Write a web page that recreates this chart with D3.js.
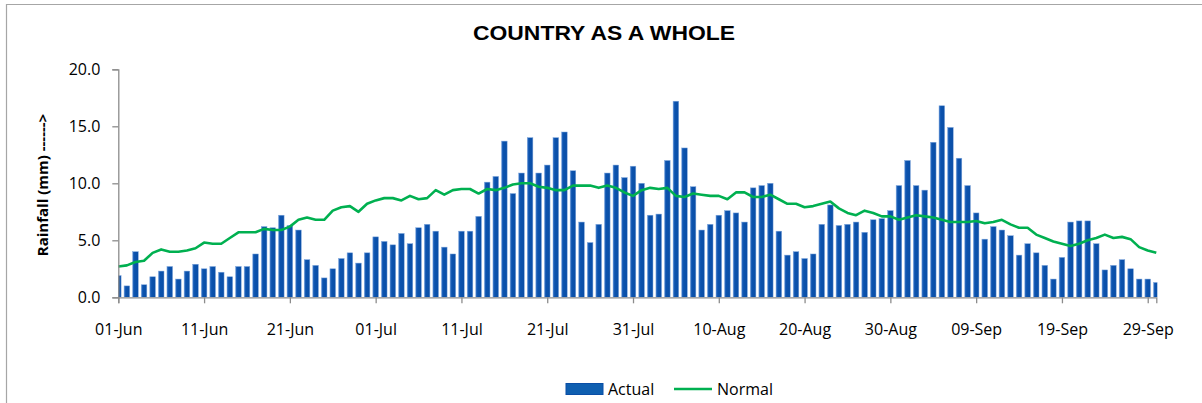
<!DOCTYPE html>
<html>
<head>
<meta charset="utf-8">
<script src="https://cdn.jsdelivr.net/npm/d3@7"></script>
<style>
    body { margin: 0; background: #ffffff; }
    svg { display: block; }
</style>
</head>
<body>
<svg id="rain-chart"></svg>
<script>
/*--------------------------------------------------------------------------------
----- DAILY RAINFALL (actual vs normal, 01-Jun to 30-Sep)
--------------------------------------------------------------------------------*/

// Daily actual rainfall (mm), one value per day starting at 01-Jun
const actual_values = [
    1.9, 1.0, 4.0, 1.1, 1.8, 2.3, 2.7, 1.6, 2.3, 2.9,
    2.5, 2.7, 2.2, 1.8, 2.7, 2.7, 3.8, 6.2, 6.1, 7.2,
    6.3, 5.9, 3.3, 2.8, 1.7, 2.5, 3.4, 3.9, 3.0, 3.9,
    5.3, 4.9, 4.6, 5.6, 4.7, 6.1, 6.4, 5.8, 4.4, 3.8,
    5.8, 5.8, 7.1, 10.1, 10.6, 13.7, 9.1, 10.9, 14.0, 10.9,
    11.6, 14.0, 14.5, 11.1, 6.6, 4.8, 6.4, 10.9, 11.6, 10.5,
    11.5, 10.0, 7.2, 7.3, 12.0, 17.2, 13.1, 9.7, 5.9, 6.4,
    7.2, 7.6, 7.4, 6.6, 9.6, 9.8, 10.0, 5.8, 3.7, 4.0,
    3.4, 3.8, 6.4, 8.1, 6.3, 6.4, 6.6, 5.7, 6.8, 6.9,
    7.6, 9.8, 12.0, 9.8, 9.4, 13.6, 16.8, 14.9, 12.2, 9.8,
    7.4, 5.1, 6.2, 5.9, 5.4, 3.7, 4.7, 3.9, 2.8, 1.6,
    3.5, 6.6, 6.7, 6.7, 4.7, 2.4, 2.8, 3.3, 2.5, 1.6,
    1.6, 1.3
];

// Daily normal rainfall (mm), same days as above
const normal_values = [
    2.7, 2.8, 3.1, 3.2, 3.9, 4.2, 4.0, 4.0, 4.1, 4.3,
    4.8, 4.7, 4.7, 5.2, 5.7, 5.7, 5.7, 6.0, 5.9, 5.9,
    6.2, 6.8, 7.0, 6.8, 6.8, 7.6, 7.9, 8.0, 7.5, 8.2,
    8.5, 8.7, 8.7, 8.5, 8.9, 8.6, 8.7, 9.4, 9.0, 9.4,
    9.5, 9.5, 9.1, 9.5, 9.4, 9.6, 9.9, 10.0, 10.0, 9.7,
    9.6, 9.4, 9.4, 9.8, 9.8, 9.8, 9.6, 9.8, 9.6, 9.2,
    8.9, 9.4, 9.6, 9.5, 9.6, 8.9, 8.8, 9.1, 9.0, 8.9,
    8.9, 8.6, 9.2, 9.2, 8.8, 8.8, 9.0, 8.6, 8.2, 8.2,
    7.9, 8.0, 8.2, 8.4, 7.8, 7.4, 7.2, 7.6, 7.4, 7.1,
    7.1, 6.8, 7.0, 7.2, 7.1, 7.0, 6.8, 6.6, 6.6, 6.6,
    6.7, 6.5, 6.6, 6.8, 6.4, 6.1, 6.1, 5.5, 5.2, 4.9,
    4.7, 4.5, 4.7, 5.0, 5.2, 5.5, 5.2, 5.3, 5.1, 4.4,
    4.1, 3.9
];

// Axis labels and legend labels
const y_tick_values = [0, 5, 10, 15, 20];
const chart_title = "COUNTRY AS A WHOLE";
const y_axis_title = "Rainfall (mm) ------>";
const series_names = ["Actual", "Normal"];

// One date per value, starting on 01-Jun
const start_date = new Date(2019, 5, 1);
const day_dates = actual_values.map((d, i) => d3.timeDay.offset(start_date, i));
const x_tick_dates = day_dates.filter((d, i) => i % 10 === 0);

// Configure the dimensions of the chart
const chart_width = 1202, chart_height = 403;
const plot = { left: 118.3, right: 1156.3, top: 69.3, bottom: 297.3 };
const font_family = "'Open Sans', 'Noto Sans', sans-serif";
const axis_color = "#8c8c8c";

// Scales for the X-axis (dates) and Y-axis (rainfall)
const x_scale = d3.scaleTime()
    .domain([day_dates[0], day_dates[day_dates.length - 1]])
    .range([plot.left, plot.right]);
const y_scale = d3.scaleLinear()
    .domain([0, 20])
    .range([plot.bottom, plot.top]);

// Create the chart container
const svg = d3.select("#rain-chart")
    .attr("width", chart_width)
    .attr("height", chart_height);

// Outer frame (top and left edges are visible)
svg.append("path")
    .attr("d", `M6.5,${chart_height} V4.5 H${chart_width}`)
    .attr("fill", "none")
    .attr("stroke", "#a6a6a6")
    .attr("stroke-width", 1.2);

// Clip so half bars at both ends stay inside the plot
svg.append("clipPath")
    .attr("id", "plot-clip")
    .append("rect")
    .attr("x", plot.left)
    .attr("y", 0)
    .attr("width", plot.right - plot.left + 1)
    .attr("height", plot.bottom);

// Bar gradient: darker centre, lighter edges
const bar_gradient = svg.append("defs").append("linearGradient")
    .attr("id", "bar-fill")
    .attr("x1", "0%").attr("x2", "100%");
bar_gradient.append("stop").attr("offset", "0%").attr("stop-color", "#2f6fc4");
bar_gradient.append("stop").attr("offset", "35%").attr("stop-color", "#0b52ad");
bar_gradient.append("stop").attr("offset", "100%").attr("stop-color", "#0a4ea6");

// Actual rainfall bars
const bar_width = 5.6;
svg.append("g")
    .attr("clip-path", "url(#plot-clip)")
    .selectAll("rect")
    .data(actual_values)
    .enter()
    .append("rect")
    .attr("x", (d, i) => x_scale(day_dates[i]) - bar_width / 2)
    .attr("y", d => y_scale(d))
    .attr("width", bar_width)
    .attr("height", d => plot.bottom - y_scale(d))
    .attr("fill", "url(#bar-fill)")
    .attr("stroke", "#7ea6dc")
    .attr("stroke-width", 0.5);

// Normal rainfall line
const normal_line = d3.line()
    .x((d, i) => x_scale(day_dates[i]))
    .y(d => y_scale(d));
svg.append("path")
    .datum(normal_values)
    .attr("d", normal_line)
    .attr("fill", "none")
    .attr("stroke", "#00b050")
    .attr("stroke-width", 2.6)
    .attr("stroke-linejoin", "round");

// Y-axis
const y_axis = svg.append("g")
    .attr("transform", `translate(${plot.left},0)`)
    .call(d3.axisLeft(y_scale).tickValues(y_tick_values).tickFormat(d3.format(".1f")).tickSize(6).tickPadding(12));

// X-axis
const x_axis = svg.append("g")
    .attr("transform", `translate(0,${plot.bottom})`)
    .call(d3.axisBottom(x_scale).tickValues(x_tick_dates).tickFormat(d3.timeFormat("%d-%b")).tickSize(6).tickPadding(20));

// Style both axes alike
[x_axis, y_axis].forEach(axis => {
    axis.select(".domain").attr("stroke", axis_color).attr("stroke-width", 1.3);
    axis.selectAll(".tick line").attr("stroke", axis_color).attr("stroke-width", 1.3);
    axis.selectAll(".tick text")
        .attr("fill", "#000")
        .style("font-family", font_family)
        .style("font-size", "16px");
});

// Chart title
svg.append("text")
    .attr("x", 604)
    .attr("y", 39.5)
    .attr("text-anchor", "middle")
    .attr("textLength", 262)
    .attr("lengthAdjust", "spacingAndGlyphs")
    .style("font-family", "'Liberation Sans', Arial, sans-serif")
    .style("font-weight", "bold")
    .style("font-size", "20px")
    .text(chart_title);

// Y-axis title
svg.append("text")
    .attr("transform", "translate(48,185) rotate(-90)")
    .attr("text-anchor", "middle")
    .style("font-family", font_family)
    .style("font-weight", "bold")
    .style("font-size", "15px")
    .text(y_axis_title);

// Legend
const legend = svg.append("g").attr("transform", "translate(566,389)");
legend.append("rect")
    .attr("x", 0).attr("y", -5.5)
    .attr("width", 37).attr("height", 11)
    .attr("fill", "#0f5fb0")
    .attr("stroke", "#0a4ea6");
legend.append("text")
    .attr("x", 42).attr("y", 6)
    .style("font-family", font_family)
    .style("font-size", "16px")
    .text(series_names[0]);
legend.append("line")
    .attr("x1", 108).attr("x2", 146)
    .attr("y1", 0).attr("y2", 0)
    .attr("stroke", "#00b050")
    .attr("stroke-width", 2.6);
legend.append("text")
    .attr("x", 151).attr("y", 6)
    .style("font-family", font_family)
    .style("font-size", "16px")
    .text(series_names[1]);
</script>
</body>
</html>
